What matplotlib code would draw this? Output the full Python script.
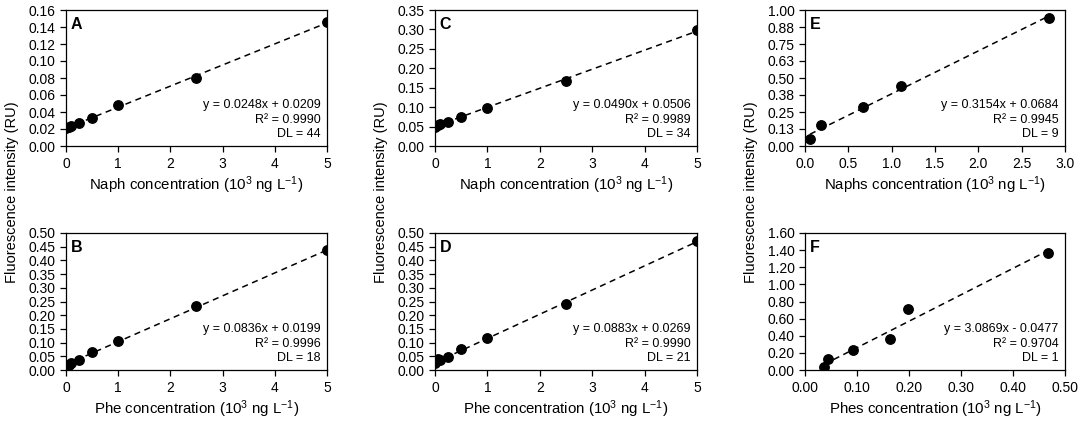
import numpy as np
import matplotlib
matplotlib.use("Agg")
import matplotlib.pyplot as plt

plt.rcParams['font.family'] = ['Liberation Sans', 'DejaVu Sans']
plt.rcParams['mathtext.fontset'] = 'custom'
plt.rcParams['mathtext.rm'] = 'Liberation Sans'
plt.rcParams['mathtext.it'] = 'Liberation Sans:italic'

# calibration data
x_std = [0, 0.05, 0.1, 0.25, 0.5, 1, 2.5, 5]
y_A = [0.021, 0.022, 0.024, 0.027, 0.033, 0.048, 0.080, 0.146]
y_B = [0.015, 0.020, 0.027, 0.038, 0.065, 0.105, 0.232, 0.437]
y_C = [0.050, 0.054, 0.057, 0.062, 0.074, 0.097, 0.168, 0.298]
y_D = [0.024, 0.040, 0.036, 0.046, 0.075, 0.116, 0.240, 0.472]
x_E = [0.058, 0.19, 0.67, 1.11, 2.81]
y_E = [0.051, 0.154, 0.284, 0.441, 0.939]
x_F = [0.037, 0.044, 0.093, 0.163, 0.198, 0.468]
y_F = [0.039, 0.129, 0.238, 0.359, 0.718, 1.366]

# trendline coefficients shown on each panel
slopes = {'A': 0.0248, 'B': 0.0836, 'C': 0.0490, 'D': 0.0883, 'E': 0.3154, 'F': 3.0869}
intercepts = {'A': 0.0209, 'B': 0.0199, 'C': 0.0506, 'D': 0.0269, 'E': 0.0684, 'F': -0.0477}
r2 = {'A': '0.9990', 'B': '0.9996', 'C': '0.9989', 'D': '0.9990', 'E': '0.9945', 'F': '0.9704'}
dl = {'A': 44, 'B': 18, 'C': 34, 'D': 21, 'E': 9, 'F': 1}

xlabels = {'A': 'Naph', 'B': 'Phe', 'C': 'Naph', 'D': 'Phe', 'E': 'Naphs', 'F': 'Phes'}

yticks = {
    'A': np.arange(0, 0.161, 0.02),
    'B': np.arange(0, 0.501, 0.05),
    'C': np.arange(0, 0.351, 0.05),
    'D': np.arange(0, 0.501, 0.05),
    'E': np.arange(0, 1.001, 0.125),
    'F': np.arange(0, 1.601, 0.2),
}
ytick_labels_E = ['0.00', '0.13', '0.25', '0.38', '0.50', '0.63', '0.75', '0.88', '1.00']
xticks = {
    'A': [0, 1, 2, 3, 4, 5], 'B': [0, 1, 2, 3, 4, 5],
    'C': [0, 1, 2, 3, 4, 5], 'D': [0, 1, 2, 3, 4, 5],
    'E': np.arange(0, 3.01, 0.5), 'F': np.arange(0, 0.501, 0.1),
}
data = {
    'A': (x_std, y_A), 'B': (x_std, y_B), 'C': (x_std, y_C),
    'D': (x_std, y_D), 'E': (x_E, y_E), 'F': (x_F, y_F),
}

W, H = 1084, 421
fig = plt.figure(figsize=(W / 100, H / 100), dpi=100)

# axes boxes in pixels: left, right, top, bottom
col_x = {'A': (66, 327), 'B': (66, 327), 'C': (435, 697), 'D': (435, 697),
         'E': (805, 1065), 'F': (805, 1065)}
row_y = {'A': (10, 146), 'C': (10, 146), 'E': (10, 146),
         'B': (233, 370), 'D': (233, 370), 'F': (233, 370)}

for key in 'ABCDEF':
    l, r = col_x[key]
    t, b = row_y[key]
    ax = fig.add_axes([l / W, 1 - b / H, (r - l) / W, (b - t) / H])
    xs, ys = data[key]
    xs = np.array(xs)
    fit_x = np.array([xs.min(), xs.max()])
    ax.plot(fit_x, slopes[key] * fit_x + intercepts[key], ls=(0, (4, 3)),
            color='black', lw=1.1, zorder=2)
    ax.plot(xs, ys, 'o', color='black', ms=6.8, zorder=3)

    yt = yticks[key]
    ax.set_yticks(yt)
    if key == 'E':
        ax.set_yticklabels(ytick_labels_E)
    else:
        ax.set_yticklabels(['%.2f' % v for v in yt])
    ax.set_ylim(yt[0], yt[-1])
    xt = xticks[key]
    ax.set_xticks(xt)
    if key == 'E':
        ax.set_xticklabels(['%.1f' % v for v in xt])
    elif key == 'F':
        ax.set_xticklabels(['%.2f' % v for v in xt])
    else:
        ax.set_xticklabels(['%d' % v for v in xt])
    ax.set_xlim(xt[0], xt[-1])

    ax.tick_params(direction='out', length=4, width=0.9, labelsize=10,
                   colors='black')
    ax.tick_params(axis='y', pad=3.5)
    ax.tick_params(axis='x', pad=4)
    for sp in ax.spines.values():
        sp.set_linewidth(0.9)
        sp.set_color('black')

    ax.set_xlabel(xlabels[key] + r' concentration (10$^{3}$ ng L$^{-1}$)',
                  fontsize=10.8, labelpad=2.5)

    sign = '+' if intercepts[key] >= 0 else '-'
    eq = 'y = %.4fx %s %.4f\nR\u00b2 = %s\nDL = %d' % (
        slopes[key], sign, abs(intercepts[key]), r2[key], dl[key])
    ax.text(0.975, 0.045, eq, transform=ax.transAxes, ha='right', va='bottom',
            fontsize=9, linespacing=1.25)
    ax.text(0.018, 0.95, key, transform=ax.transAxes, ha='left', va='top',
            fontsize=11.5, fontweight='bold')

for xp in (12, 381, 751):
    fig.text(xp / W, 1 - 192 / H, 'Fluorescence intensity (RU)', rotation=90,
             ha='center', va='center', fontsize=10.5)

fig.savefig('out.png', dpi=100)
